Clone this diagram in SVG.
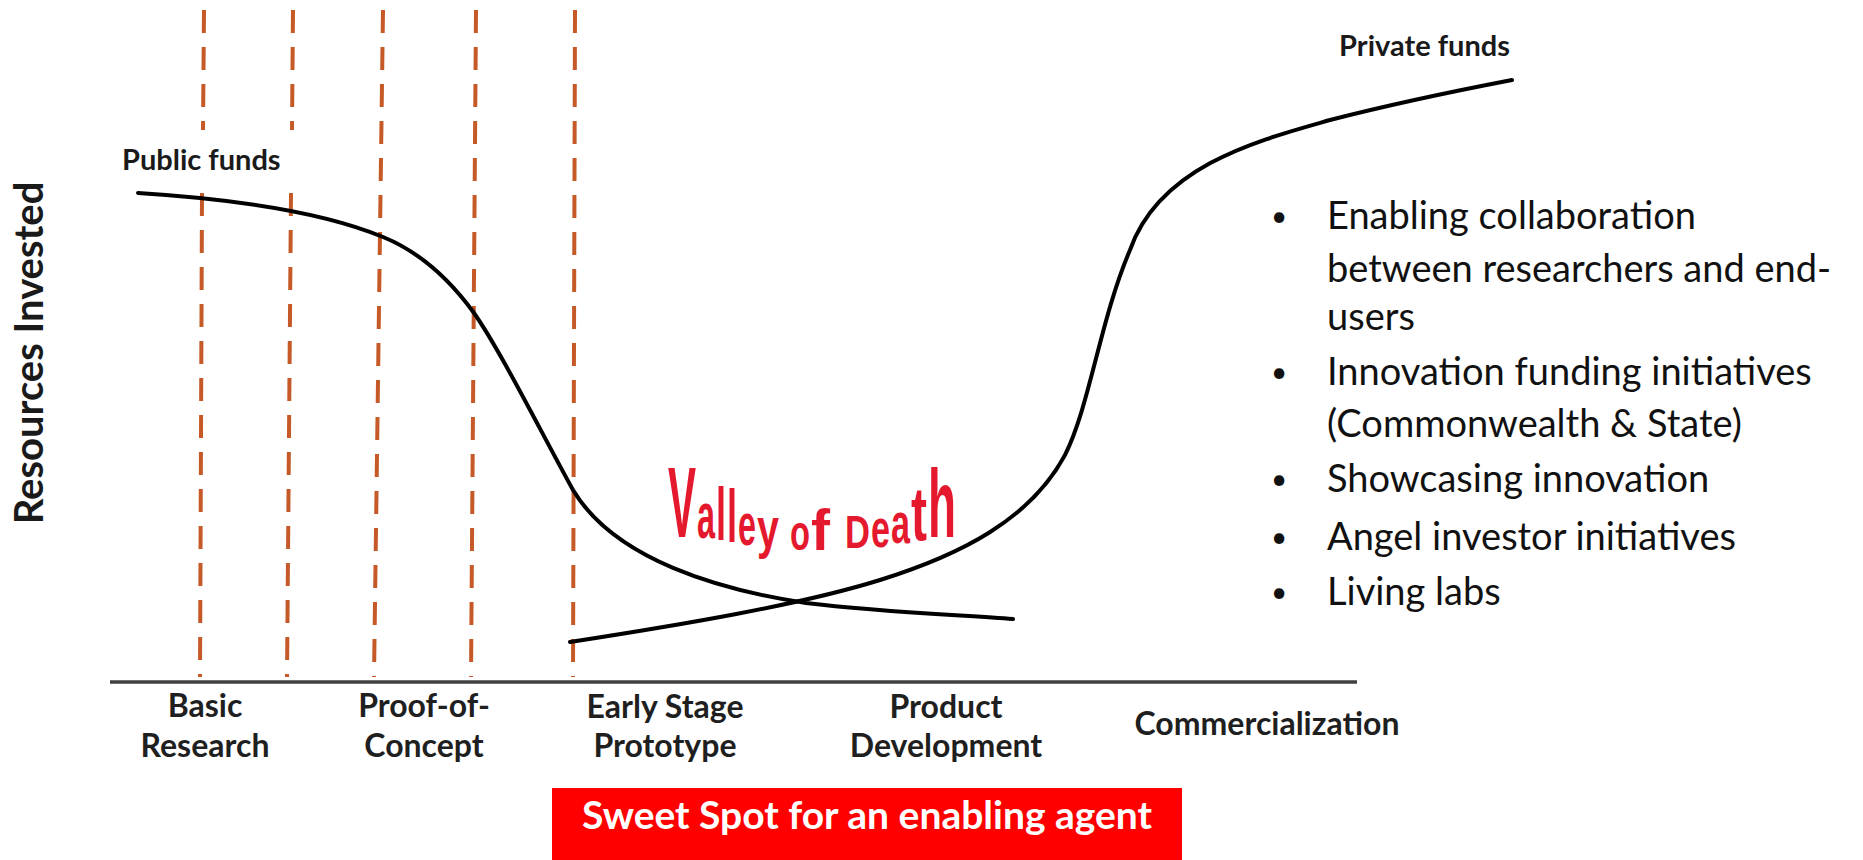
<svg xmlns="http://www.w3.org/2000/svg" width="1863" height="860" viewBox="0 0 1863 860">
<style>
.dash{stroke:#C55A28;stroke-width:4;stroke-dasharray:23 14;fill:none}
.curve{stroke:#000;stroke-width:4;fill:none;stroke-linecap:round}
.axis{stroke:#404040;stroke-width:3.5}
.lbl{font-family:Lato,"Liberation Sans",sans-serif;font-weight:bold;fill:#1a1a1a}
.stage{font-family:Lato,"Liberation Sans",sans-serif;font-weight:bold;font-size:32px;fill:#1f1f1f;text-anchor:middle}
.bul{font-family:Lato,"Liberation Sans",sans-serif;font-size:38px;fill:#111}
.dot{font-family:Lato,"Liberation Sans",sans-serif;font-size:28px;fill:#111}
</style>
<rect width="1863" height="860" fill="#fff"/>
<g id="phase-lines">
<line class="dash" x1="204" y1="10" x2="203" y2="130"/>
<line class="dash" x1="202" y1="193" x2="200" y2="677"/>
<line class="dash" x1="293" y1="10" x2="292" y2="130"/>
<line class="dash" x1="291" y1="193" x2="287" y2="677"/>
<line class="dash" x1="383" y1="10" x2="374" y2="677"/>
<line class="dash" x1="476" y1="10" x2="471" y2="677"/>
<line class="dash" x1="575" y1="10" x2="573" y2="677"/>
</g>
<g id="axis"><line class="axis" x1="110" y1="682" x2="1357" y2="682"/></g>
<g id="connectors">
<path id="public-curve" class="curve" d="M138,193 C250,200 330,215 383,237 C420,252 450,280 474,313 C500,350 540,430 573,490 C615,560 720,590 806,603 C880,612 960,615 1013,619"/>
<path id="private-curve" class="curve" d="M570,642 C680,625 800,605 880,580 C960,555 1030,520 1065,455 C1090,405 1100,320 1130,250 C1160,165 1260,140 1330,120 C1400,102 1460,90 1512,80"/>
</g>
<g id="y-label"><text class="lbl" font-size="40" text-anchor="middle" transform="translate(43,353) rotate(-90)">Resources Invested</text></g>
<g id="public-funds"><text class="lbl" x="122" y="170" font-size="29">Public funds</text></g>
<g id="private-funds"><text class="lbl" x="1510" y="56" font-size="29" text-anchor="end">Private funds</text></g>
<g id="valley-of-death">
<text font-family="'Liberation Sans',Arial,sans-serif" font-weight="bold" fill="#E5192E"><tspan x="668" y="537" font-size="100" textLength="28" lengthAdjust="spacingAndGlyphs">V</tspan><tspan x="697" y="538" font-size="65" textLength="18" lengthAdjust="spacingAndGlyphs">a</tspan><tspan x="716" y="540" font-size="75" textLength="10" lengthAdjust="spacingAndGlyphs">l</tspan><tspan x="727" y="542" font-size="75" textLength="10" lengthAdjust="spacingAndGlyphs">l</tspan><tspan x="738" y="545" font-size="59" textLength="18" lengthAdjust="spacingAndGlyphs">e</tspan><tspan x="757" y="547" font-size="56" textLength="22" lengthAdjust="spacingAndGlyphs">y</tspan><tspan x="780" y="549" font-size="30" textLength="9" lengthAdjust="spacingAndGlyphs"> </tspan><tspan x="790" y="550" font-size="50" textLength="20" lengthAdjust="spacingAndGlyphs">o</tspan><tspan x="811" y="550" font-size="58" textLength="19" lengthAdjust="spacingAndGlyphs">f</tspan><tspan x="831" y="549" font-size="30" textLength="13" lengthAdjust="spacingAndGlyphs"> </tspan><tspan x="845" y="548" font-size="46" textLength="25" lengthAdjust="spacingAndGlyphs">D</tspan><tspan x="871" y="547" font-size="54" textLength="19" lengthAdjust="spacingAndGlyphs">e</tspan><tspan x="891" y="543" font-size="57" textLength="19" lengthAdjust="spacingAndGlyphs">a</tspan><tspan x="911" y="540" font-size="76" textLength="16" lengthAdjust="spacingAndGlyphs">t</tspan><tspan x="928" y="537" font-size="96" textLength="28" lengthAdjust="spacingAndGlyphs">h</tspan></text>
</g>
<g id="stage-basic"><text class="stage" x="205" y="717">Basic</text><text class="stage" x="205" y="757">Research</text></g>
<g id="stage-poc"><text class="stage" x="424" y="717">Proof-of-</text><text class="stage" x="424" y="757">Concept</text></g>
<g id="stage-early"><text class="stage" x="665" y="718">Early Stage</text><text class="stage" x="665" y="757">Prototype</text></g>
<g id="stage-product"><text class="stage" x="946" y="718">Product</text><text class="stage" x="946" y="757">Development</text></g>
<g id="stage-comm"><text class="stage" x="1267" y="735">Commercialization</text></g>
<g id="bullets">
<text class="dot" x="1271" y="226">•</text><text class="bul" x="1327" y="229">Enabling collaboration</text>
<text class="bul" x="1327" y="282">between researchers and end-</text>
<text class="bul" x="1327" y="330">users</text>
<text class="dot" x="1271" y="382">•</text><text class="bul" x="1327" y="385">Innovation funding initiatives</text>
<text class="bul" x="1327" y="437">(Commonwealth &amp; State)</text>
<text class="dot" x="1271" y="489">•</text><text class="bul" x="1327" y="492">Showcasing innovation</text>
<text class="dot" x="1271" y="547">•</text><text class="bul" x="1327" y="550">Angel investor initiatives</text>
<text class="dot" x="1271" y="602">•</text><text class="bul" x="1327" y="605">Living labs</text>
</g>
<g id="sweet-spot">
<rect x="552" y="788" width="630" height="72" fill="#FE0000"/>
<text x="867" y="829" font-family="Lato,'Liberation Sans',sans-serif" font-weight="bold" font-size="39" fill="#fff" text-anchor="middle">Sweet Spot for an enabling agent</text>
</g>
</svg>
